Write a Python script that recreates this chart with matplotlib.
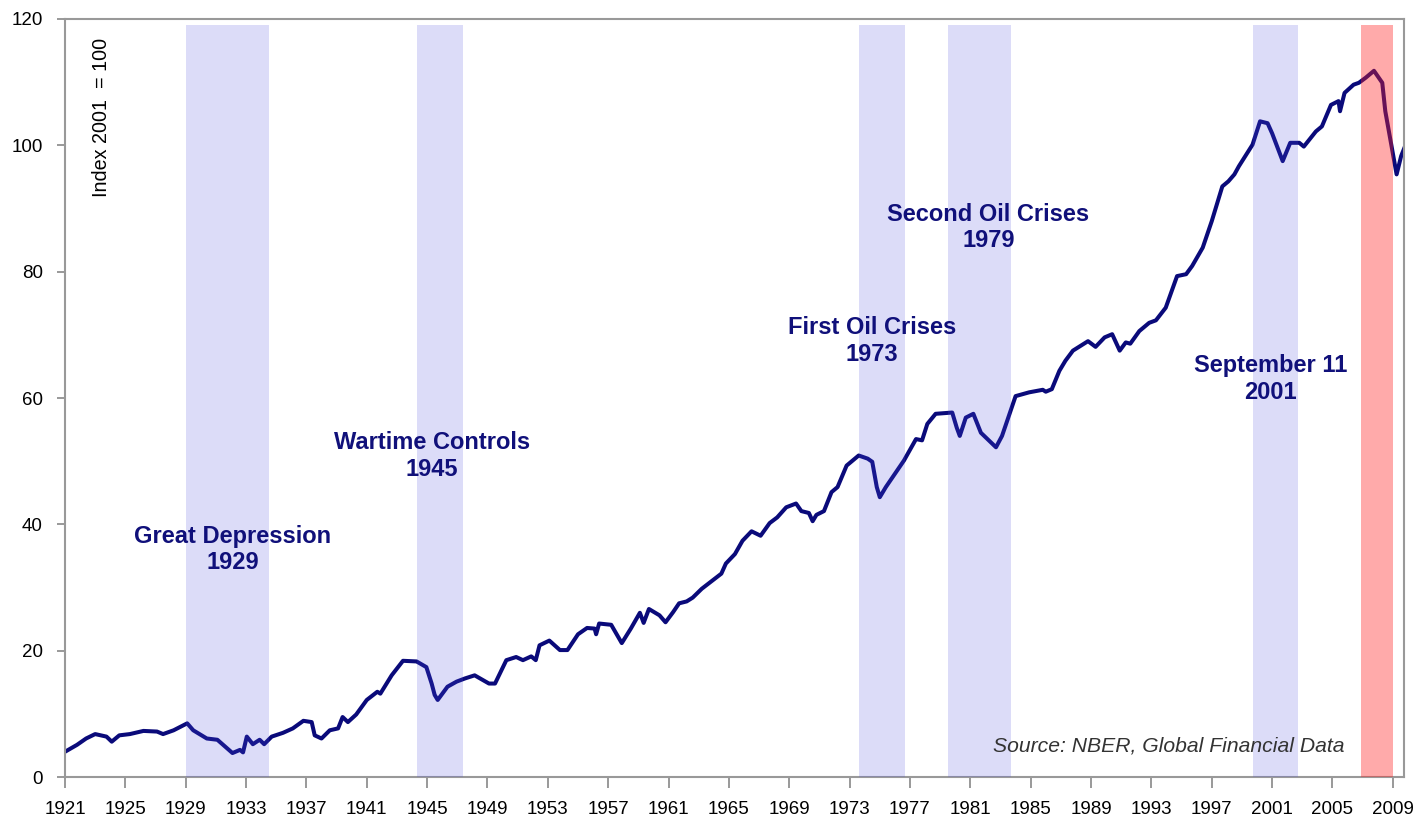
import matplotlib
matplotlib.use("Agg")
from matplotlib import pyplot as plt

# index values (year, index 2001 = 100)
years = [1921.0, 1921.8, 1922.4, 1923.0, 1923.75, 1924.1, 1924.6, 1925.3, 1926.2, 1927.1,
         1927.5, 1928.2, 1929.1, 1929.5, 1930.4, 1931.1, 1932.1, 1932.6, 1932.8, 1933.05,
         1933.45, 1933.9, 1934.2, 1934.7, 1935.45, 1936.1, 1936.8, 1937.35, 1937.55, 1938.0,
         1938.55, 1939.1, 1939.4, 1939.75, 1940.3, 1941.0, 1941.7, 1941.9, 1942.65, 1943.4,
         1944.3, 1944.95, 1945.3, 1945.5, 1945.7, 1945.95, 1946.35, 1946.95, 1947.5, 1948.15,
         1949.1, 1949.5, 1950.25, 1950.9, 1951.35, 1951.9, 1952.2, 1952.45, 1953.1, 1953.8,
         1954.3, 1955.0, 1955.6, 1956.1, 1956.2, 1956.4, 1957.2, 1957.9, 1958.5, 1959.1,
         1959.35, 1959.7, 1960.4, 1960.8, 1961.3, 1961.7, 1962.2, 1962.6, 1963.2, 1963.9,
         1964.5, 1964.8, 1965.4, 1965.9, 1966.5, 1967.1, 1967.7, 1968.2, 1968.8, 1969.45,
         1969.8, 1970.3, 1970.55, 1970.8, 1971.3, 1971.8, 1972.2, 1972.8, 1973.2, 1973.6,
         1974.2, 1974.5, 1974.8, 1975.0, 1975.4, 1976.0, 1976.6, 1977.4, 1977.8, 1978.15,
         1978.7, 1979.8, 1980.1, 1980.3, 1980.7, 1981.2, 1981.7, 1982.7, 1983.1, 1984.0,
         1984.9, 1985.8, 1986.0, 1986.4, 1986.9, 1987.3, 1987.8, 1988.8, 1989.3, 1989.9,
         1990.4, 1990.9, 1991.3, 1991.6, 1992.2, 1992.85, 1993.3, 1993.95, 1994.7, 1995.3,
         1995.7, 1996.4, 1997.0, 1997.7, 1998.1, 1998.5, 1998.8, 1999.7, 2000.2, 2000.7,
         2001.0, 2001.7, 2002.2, 2002.8, 2003.1, 2003.9, 2004.3, 2004.9, 2005.4, 2005.5,
         2005.8, 2006.4, 2006.75, 2007.2, 2007.75, 2008.3, 2008.5, 2008.9, 2009.25, 2009.55,
         2009.8]
index = [4.0, 5.1, 6.1, 6.8, 6.4, 5.6, 6.6, 6.8, 7.3, 7.2,
         6.8, 7.4, 8.5, 7.4, 6.1, 5.9, 3.8, 4.3, 3.9, 6.4,
         5.2, 5.9, 5.2, 6.4, 7.0, 7.7, 8.9, 8.7, 6.6, 6.1,
         7.4, 7.7, 9.5, 8.7, 9.9, 12.2, 13.5, 13.2, 16.1, 18.4,
         18.3, 17.4, 14.8, 13.0, 12.2, 13.0, 14.3, 15.1, 15.6, 16.1,
         14.8, 14.8, 18.5, 19.0, 18.5, 19.1, 18.5, 20.85, 21.6, 20.1,
         20.1, 22.6, 23.6, 23.5, 22.6, 24.3, 24.1, 21.2, 23.5, 26.0,
         24.4, 26.6, 25.6, 24.5, 26.1, 27.5, 27.8, 28.4, 29.8, 31.1,
         32.2, 33.8, 35.3, 37.4, 38.9, 38.2, 40.2, 41.1, 42.7, 43.3,
         42.1, 41.8, 40.5, 41.5, 42.1, 45.1, 45.9, 49.3, 50.1, 50.9,
         50.4, 49.9, 45.9, 44.3, 45.9, 48.0, 50.1, 53.5, 53.3, 55.9,
         57.5, 57.7, 55.3, 54.0, 56.9, 57.5, 54.5, 52.2, 54.0, 60.3,
         60.9, 61.3, 61.0, 61.4, 64.3, 65.9, 67.5, 69.0, 68.1, 69.6,
         70.1, 67.5, 68.8, 68.6, 70.6, 71.9, 72.3, 74.3, 79.3, 79.6,
         80.9, 83.8, 88.0, 93.5, 94.3, 95.4, 96.7, 100.1, 103.8, 103.5,
         101.9, 97.5, 100.4, 100.4, 99.8, 102.2, 103.0, 106.4, 107.0, 105.4,
         108.3, 109.6, 109.9, 110.7, 111.8, 109.9, 105.4, 100.1, 95.4, 98.3,
         99.8]

# shaded crisis periods
band_start = [1929.05, 1944.3, 1973.6, 1979.5, 1999.7, 2006.9]
band_end = [1934.55, 1947.4, 1976.7, 1983.7, 2002.7, 2009.0]
band_red = [False, False, False, False, False, True]

labels = ["Great Depression\n1929", "Wartime Controls\n1945", "First Oil Crises\n1973",
          "Second Oil Crises\n1979", "September 11\n2001"]
label_x = [1932.1, 1945.3, 1974.5, 1982.2, 2000.9]
label_y = [36.0, 50.8, 69.0, 87.0, 63.0]

tick_years = list(range(1921, 2010, 4))

plt.rcParams['font.family'] = ['Liberation Sans', 'DejaVu Sans']
fig = plt.figure(figsize=(14.28, 8.22), dpi=100)
ax = fig.add_axes([0.0455, 0.0547, 0.9378, 0.9222])

ax.plot(years, index, color='#0a0a7a', linewidth=2.9, zorder=2, solid_joinstyle='round')

for x0, x1, red in zip(band_start, band_end, band_red):
    if red:
        ax.axvspan(x0, x1, ymin=0, ymax=119 / 120, color='#ff2020', alpha=0.38, lw=0, zorder=3)
    else:
        ax.axvspan(x0, x1, ymin=0, ymax=119 / 120, color='#5050e0', alpha=0.2, lw=0, zorder=3)

for txt, x, y in zip(labels, label_x, label_y):
    ax.text(x, y, txt, ha='center', va='center', fontsize=17, fontweight='bold',
            color='#10107a', linespacing=1.2, zorder=4)

ax.text(2005.8, 4.9, "Source: NBER, Global Financial Data", ha='right', va='center',
        fontsize=15.2, style='italic', color='#333333')
ax.text(0.027, 0.87, "Index 2001  = 100", transform=ax.transAxes, rotation=90,
        ha='center', va='center', fontsize=14.2)

ax.set_xlim(1921, 2009.75)
ax.set_ylim(0, 120)
ax.set_xticks(tick_years)
ax.set_yticks(range(0, 121, 20))
ax.tick_params(axis='x', length=8, width=1.2, color='#888888', pad=9, labelsize=13.5)
ax.tick_params(axis='y', length=6, width=1.2, color='#888888', pad=10, labelsize=13.5)
for s in ax.spines.values():
    s.set_color('#999999')
    s.set_linewidth(1.5)

plt.savefig('out.png', dpi=100)
